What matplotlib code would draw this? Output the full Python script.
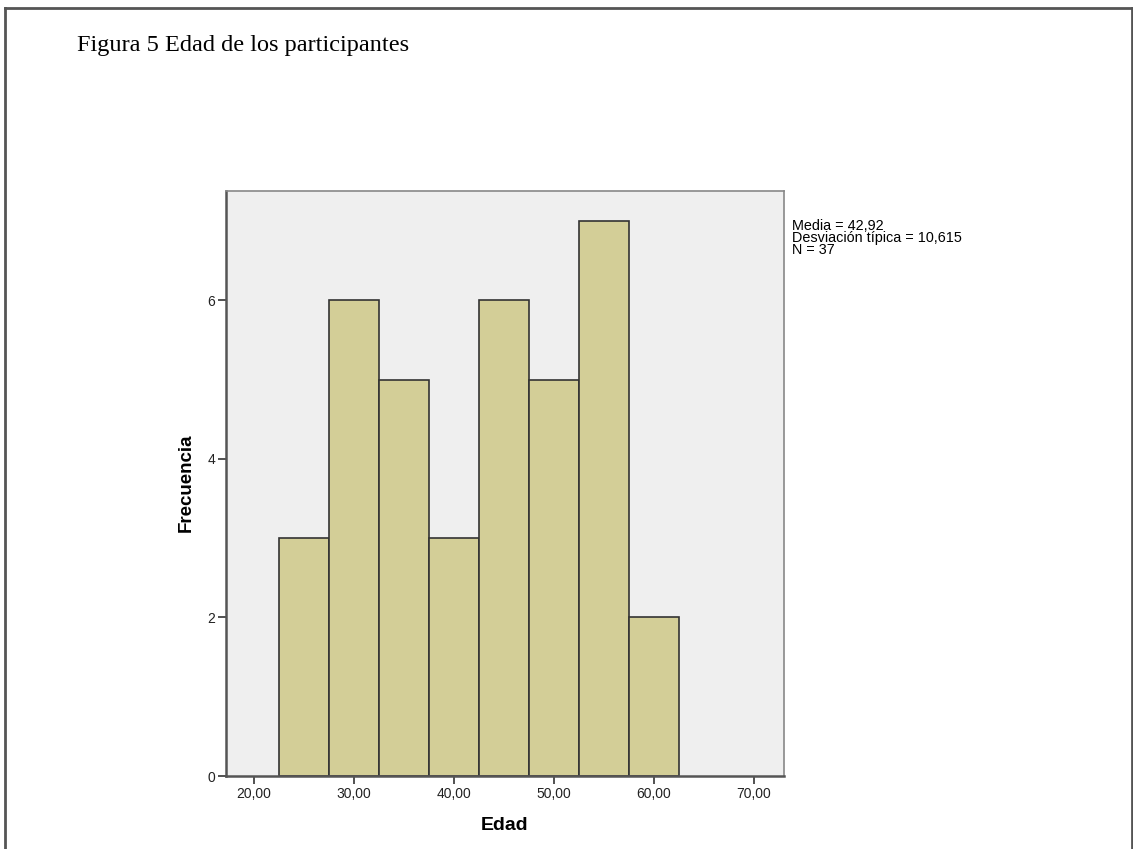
import matplotlib
matplotlib.use("Agg")
import matplotlib.pyplot as plt
from matplotlib.lines import Line2D

bin_centers = [25, 30, 35, 40, 45, 50, 55, 60]
frequencies = [3, 6, 5, 3, 6, 5, 7, 2]
bin_width = 5
x_ticks = [20, 30, 40, 50, 60, 70]
x_tick_labels = ["20,00", "30,00", "40,00", "50,00", "60,00", "70,00"]
y_ticks = [0, 2, 4, 6]
title = "Figura 5 Edad de los participantes"
stats_text = "Media = 42,92\nDesviación típica = 10,615\nN = 37"

W, H = 1133, 849
fig = plt.figure(figsize=(W / 100, H / 100), dpi=100)
fig.patch.set_facecolor("white")

# page border (top, left, right)
border_kw = dict(color="#555555", lw=2, transform=fig.transFigure)
fig.add_artist(Line2D([5 / W, 1132 / W], [1 - 8 / H, 1 - 8 / H], **border_kw))
fig.add_artist(Line2D([5 / W, 5 / W], [0, 1 - 8 / H], **border_kw))
fig.add_artist(Line2D([1132 / W, 1132 / W], [0, 1 - 8 / H], **border_kw))

fig.text(77 / W, 1 - 45 / H, title, fontsize=17.5, family="Liberation Serif",
         va="center", ha="left", color="black")

left, right, top, bottom = 226, 784, 191, 776
ax = fig.add_axes([left / W, 1 - bottom / H, (right - left) / W, (bottom - top) / H])
ax.set_facecolor("#EFEFEF")
ax.bar(bin_centers, frequencies, width=bin_width, color="#D3CE97",
       edgecolor="#333333", linewidth=1.2, zorder=2)
ax.set_xlim(17.2, 73.0)
ax.set_ylim(0, 7.38)
ax.set_xticks(x_ticks)
ax.set_xticklabels(x_tick_labels, fontsize=10, family="Liberation Sans", color="#222222")
ax.set_yticks(y_ticks)
ax.set_yticklabels([str(v) for v in y_ticks], fontsize=10, family="Liberation Sans", color="#222222")
ax.tick_params(axis="both", length=6, width=1.2, color="#333333", pad=2)
for s in ["left", "bottom"]:
    ax.spines[s].set_color("#555555")
    ax.spines[s].set_linewidth(1.8)
for s in ["top", "right"]:
    ax.spines[s].set_color("#888888")
    ax.spines[s].set_linewidth(1.2)

fig.text(505 / W, 1 - 826 / H, "Edad", fontsize=14, fontweight="bold",
         family="Liberation Sans", ha="center", va="center")
fig.text(186 / W, 1 - 483 / H, "Frecuencia", fontsize=13.5, fontweight="bold",
         family="Liberation Sans", ha="center", va="center", rotation=90)

fig.text(792 / W, 1 - 219 / H, stats_text, fontsize=10.4, family="Liberation Sans",
         va="top", ha="left", linespacing=0.82)

fig.savefig("out.png", dpi=100)
